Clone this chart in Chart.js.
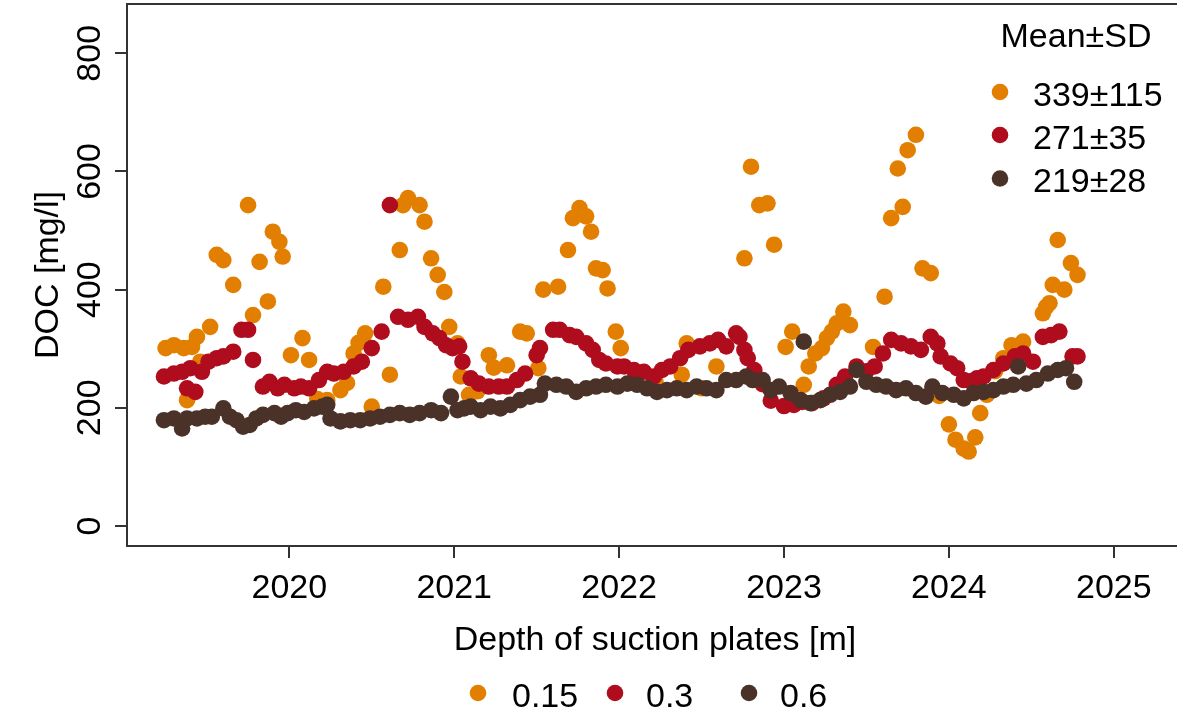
<!DOCTYPE html>
<html>
<head>
<meta charset="utf-8">
<title>DOC by depth of suction plates</title>
<script src="https://cdn.jsdelivr.net/npm/chart.js@4.4.1/dist/chart.umd.min.js"></script>
<style>
  html, body { margin: 0; padding: 0; background: #fff; overflow: hidden; }
  #wrap { width: 1177px; height: 714px; }
</style>
</head>
<body>
<div id="wrap"><canvas id="docChart" width="1177" height="714"></canvas></div>
<script>
// --- DATA ----
const xTicks = [2020, 2021, 2022, 2023, 2024, 2025];
const yTicks = [0, 200, 400, 600, 800];
const depthLabels = ['0.15', '0.3', '0.6'];
const meanSdLabels = ['339±115', '271±35', '219±28'];
const seriesColors = ['#E27F00', '#AF0C1E', '#4A3229'];

// 0.15 m
const date015 = [2019.25, 2019.30, 2019.36, 2019.38, 2019.41, 2019.44, 2019.46, 2019.52, 2019.56, 2019.60,
  2019.66, 2019.75, 2019.78, 2019.82, 2019.87, 2019.90, 2019.94, 2019.96, 2020.01, 2020.08,
  2020.12, 2020.17, 2020.23, 2020.31, 2020.35, 2020.39, 2020.42, 2020.46, 2020.50, 2020.57,
  2020.61, 2020.67, 2020.69, 2020.72, 2020.79, 2020.82, 2020.86, 2020.90, 2020.94, 2020.97,
  2021.02, 2021.04, 2021.09, 2021.14, 2021.21, 2021.24, 2021.32, 2021.40, 2021.44, 2021.51,
  2021.54, 2021.63, 2021.69, 2021.72, 2021.76, 2021.80, 2021.83, 2021.86, 2021.90, 2021.93,
  2021.98, 2022.01, 2022.10, 2022.22, 2022.38, 2022.41, 2022.50, 2022.59, 2022.76, 2022.80,
  2022.85, 2022.90, 2022.94, 2023.01, 2023.05, 2023.12, 2023.15, 2023.19, 2023.23, 2023.26,
  2023.29, 2023.32, 2023.36, 2023.40, 2023.54, 2023.61, 2023.65, 2023.69, 2023.72, 2023.75,
  2023.80, 2023.84, 2023.89, 2023.94, 2024.00, 2024.04, 2024.09, 2024.12, 2024.16, 2024.19,
  2024.23, 2024.28, 2024.33, 2024.38, 2024.45, 2024.57, 2024.59, 2024.61, 2024.63, 2024.66,
  2024.70, 2024.74, 2024.78];
const doc015 = [301, 306, 301, 213, 303, 320, 278, 337, 459, 450,
  408, 543, 357, 447, 380, 498, 481, 456, 289, 318,
  281, 215, 213, 230, 242, 292, 310, 326, 202, 405,
  256, 467, 543, 555, 543, 515, 453, 425, 396, 337,
  309, 253, 222, 228, 289, 268, 272, 329, 326, 267,
  400, 405, 467, 521, 538, 524, 498, 436, 433, 402,
  329, 301, 256, 245, 256, 309, 233, 270, 453, 608,
  543, 546, 476, 303, 329, 239, 270, 292, 301, 318,
  329, 343, 363, 340, 303, 388, 521, 605, 540, 636,
  662, 436, 428, 220, 172, 146, 131, 126, 150, 191,
  222, 262, 284, 306, 312, 360, 371, 377, 408, 484,
  400, 445, 425];

// 0.3 m
const date03 = [2019.24, 2019.30, 2019.35, 2019.38, 2019.40, 2019.43, 2019.47, 2019.51, 2019.56, 2019.60,
  2019.66, 2019.71, 2019.75, 2019.78, 2019.84, 2019.88, 2019.93, 2019.97, 2020.03, 2020.07,
  2020.12, 2020.18, 2020.23, 2020.27, 2020.33, 2020.39, 2020.44, 2020.50, 2020.56, 2020.61,
  2020.66, 2020.72, 2020.78, 2020.82, 2020.87, 2020.91, 2020.95, 2020.99, 2021.03, 2021.05,
  2021.10, 2021.15, 2021.21, 2021.27, 2021.32, 2021.38, 2021.43, 2021.50, 2021.52, 2021.60,
  2021.64, 2021.70, 2021.74, 2021.80, 2021.84, 2021.88, 2021.92, 2021.99, 2022.03, 2022.09,
  2022.15, 2022.21, 2022.26, 2022.31, 2022.37, 2022.42, 2022.49, 2022.55, 2022.60, 2022.65,
  2022.71, 2022.73, 2022.76, 2022.78, 2022.82, 2022.87, 2022.92, 2023.00, 2023.06, 2023.11,
  2023.17, 2023.24, 2023.32, 2023.37, 2023.44, 2023.50, 2023.55, 2023.60, 2023.65, 2023.71,
  2023.77, 2023.83, 2023.89, 2023.93, 2023.95, 2024.01, 2024.05, 2024.09, 2024.13, 2024.17,
  2024.21, 2024.27, 2024.33, 2024.40, 2024.45, 2024.51, 2024.57, 2024.62, 2024.67, 2024.75,
  2024.78];
const doc03 = [253, 258, 261, 233, 267, 227, 261, 278, 284, 287,
  295, 332, 332, 281, 236, 244, 233, 239, 233, 236,
  233, 247, 261, 258, 261, 270, 278, 301, 329, 543,
  354, 349, 354, 337, 326, 318, 306, 301, 304, 278,
  250, 241, 236, 236, 236, 247, 258, 289, 301, 332,
  332, 323, 320, 309, 298, 281, 275, 270, 270, 264,
  261, 253, 264, 270, 284, 298, 304, 309, 315, 304,
  326, 320, 298, 284, 264, 240, 212, 203, 205, 210,
  208, 216, 239, 253, 270, 262, 270, 292, 315, 309,
  304, 298, 320, 309, 287, 275, 267, 247, 245, 250,
  253, 264, 275, 287, 292, 278, 320, 323, 329, 287,
  287];

// 0.6 m
const date06 = [2019.24, 2019.30, 2019.35, 2019.38, 2019.44, 2019.49, 2019.53, 2019.60, 2019.64, 2019.68,
  2019.72, 2019.76, 2019.80, 2019.84, 2019.91, 2019.95, 2019.99, 2020.04, 2020.09, 2020.15,
  2020.20, 2020.23, 2020.25, 2020.31, 2020.37, 2020.43, 2020.49, 2020.55, 2020.61, 2020.67,
  2020.73, 2020.79, 2020.86, 2020.92, 2020.98, 2021.02, 2021.06, 2021.10, 2021.16, 2021.22,
  2021.28, 2021.34, 2021.40, 2021.46, 2021.52, 2021.55, 2021.62, 2021.68, 2021.74, 2021.80,
  2021.86, 2021.92, 2021.99, 2022.05, 2022.11, 2022.17, 2022.23, 2022.29, 2022.35, 2022.41,
  2022.47, 2022.53, 2022.59, 2022.65, 2022.71, 2022.77, 2022.81, 2022.87, 2022.92, 2022.97,
  2023.04, 2023.10, 2023.12, 2023.16, 2023.22, 2023.28, 2023.34, 2023.40, 2023.44, 2023.50,
  2023.56, 2023.62, 2023.68, 2023.74, 2023.80, 2023.86, 2023.90, 2023.96, 2024.03, 2024.09,
  2024.15, 2024.21, 2024.27, 2024.33, 2024.39, 2024.42, 2024.47, 2024.53, 2024.60, 2024.66,
  2024.71, 2024.76];
const doc06 = [179, 182, 165, 182, 182, 185, 185, 199, 185, 179,
  168, 171, 182, 188, 191, 185, 191, 196, 193, 199,
  202, 205, 182, 177, 179, 179, 182, 185, 188, 191,
  188, 191, 196, 191, 219, 196, 199, 202, 196, 202,
  199, 205, 213, 219, 222, 241, 239, 236, 227, 233,
  236, 239, 236, 241, 239, 233, 227, 230, 233, 230,
  236, 233, 230, 247, 247, 253, 247, 247, 230, 236,
  225, 213, 312, 208, 213, 222, 227, 236, 264, 244,
  239, 236, 230, 233, 225, 219, 236, 225, 222, 216,
  225, 227, 230, 236, 239, 270, 241, 247, 258, 264,
  267, 244];

// --- STYLE ----
const FONT = '34px "Liberation Sans", Arial, sans-serif';
const axisColor = '#333333';
const dotRadius = 8.3;

const toPoints = (dates, values) => dates.map((d, i) => ({ x: d, y: values[i] }));

// --- AXIS TEXT, BOX AND LEGENDS (R base graphics look) ----
const rFrame = {
  id: 'rFrame',
  afterDraw(chart) {
    const { ctx, chartArea: a, scales: { x, y } } = chart;
    ctx.save();
    // top edge of the box
    ctx.strokeStyle = axisColor;
    ctx.lineWidth = 2;
    ctx.beginPath();
    ctx.moveTo(a.left, a.top);
    ctx.lineTo(a.right, a.top);
    ctx.stroke();

    ctx.fillStyle = '#000';
    ctx.font = FONT;
    ctx.textAlign = 'center';
    ctx.textBaseline = 'alphabetic';

    // x tick labels
    x.ticks.forEach(t => ctx.fillText(String(t.value), x.getPixelForValue(t.value), 598));

    // y tick labels, parallel to the axis
    y.ticks.forEach(t => {
      ctx.save();
      ctx.translate(100, y.getPixelForValue(t.value));
      ctx.rotate(-Math.PI / 2);
      ctx.fillText(String(t.value), 0, 0);
      ctx.restore();
    });

    // axis titles
    ctx.save();
    ctx.translate(58, (a.top + a.bottom) / 2);
    ctx.rotate(-Math.PI / 2);
    ctx.fillText('DOC [mg/l]', 0, 0);
    ctx.restore();
    ctx.fillText('Depth of suction plates [m]', 655, 650);

    // bottom legend
    const bottomDots = [478, 615, 749];
    const bottomText = [512, 646, 780];
    ctx.textAlign = 'left';
    depthLabels.forEach((lab, i) => {
      ctx.fillStyle = seriesColors[i];
      ctx.beginPath();
      ctx.arc(bottomDots[i], 693, dotRadius, 0, Math.PI * 2);
      ctx.fill();
      ctx.fillStyle = '#000';
      ctx.fillText(lab, bottomText[i], 706.5);
    });

    // top right legend
    ctx.textAlign = 'center';
    ctx.fillText('Mean±SD', 1076, 46.5);
    ctx.textAlign = 'left';
    const rowY = [92, 135, 178.5];
    meanSdLabels.forEach((lab, i) => {
      ctx.fillStyle = seriesColors[i];
      ctx.beginPath();
      ctx.arc(1000, rowY[i], dotRadius, 0, Math.PI * 2);
      ctx.fill();
      ctx.fillStyle = '#000';
      ctx.fillText(lab, 1033, rowY[i] + 13.5);
    });
    ctx.restore();
  }
};

const series = [
  { label: depthLabels[0], data: toPoints(date015, doc015), backgroundColor: seriesColors[0], order: 3 },
  { label: depthLabels[1], data: toPoints(date03, doc03), backgroundColor: seriesColors[1], order: 2 },
  { label: depthLabels[2], data: toPoints(date06, doc06), backgroundColor: seriesColors[2], order: 1 }
];

new Chart(document.getElementById('docChart'), {
  type: 'scatter',
  data: {
    datasets: series.map(s => ({
      ...s,
      pointRadius: dotRadius,
      pointHoverRadius: dotRadius,
      pointBorderWidth: 0,
      borderWidth: 0,
      pointStyle: 'circle'
    }))
  },
  options: {
    responsive: false,
    animation: false,
    events: [],
    layout: { autoPadding: false, padding: { top: 4, left: 0, right: 0, bottom: 0 } },
    plugins: { legend: { display: false }, tooltip: { enabled: false } },
    scales: {
      x: {
        type: 'linear',
        min: 2019.0158,
        max: 2025.3833,
        afterBuildTicks: s => { s.ticks = xTicks.map(v => ({ value: v })); },
        afterFit: s => { s.height = 168; },
        ticks: { display: false },
        grid: { drawOnChartArea: false, drawTicks: true, tickLength: 12, color: axisColor, lineWidth: 2 },
        border: { display: true, color: axisColor, width: 2 }
      },
      y: {
        type: 'linear',
        min: -33.85,
        max: 883.4,
        afterBuildTicks: s => { s.ticks = yTicks.map(v => ({ value: v })); },
        afterFit: s => { s.width = 127; },
        ticks: { display: false },
        grid: { drawOnChartArea: false, drawTicks: true, tickLength: 12, color: axisColor, lineWidth: 2 },
        border: { display: true, color: axisColor, width: 2 }
      }
    }
  },
  plugins: [rFrame]
});
</script>
</body>
</html>
